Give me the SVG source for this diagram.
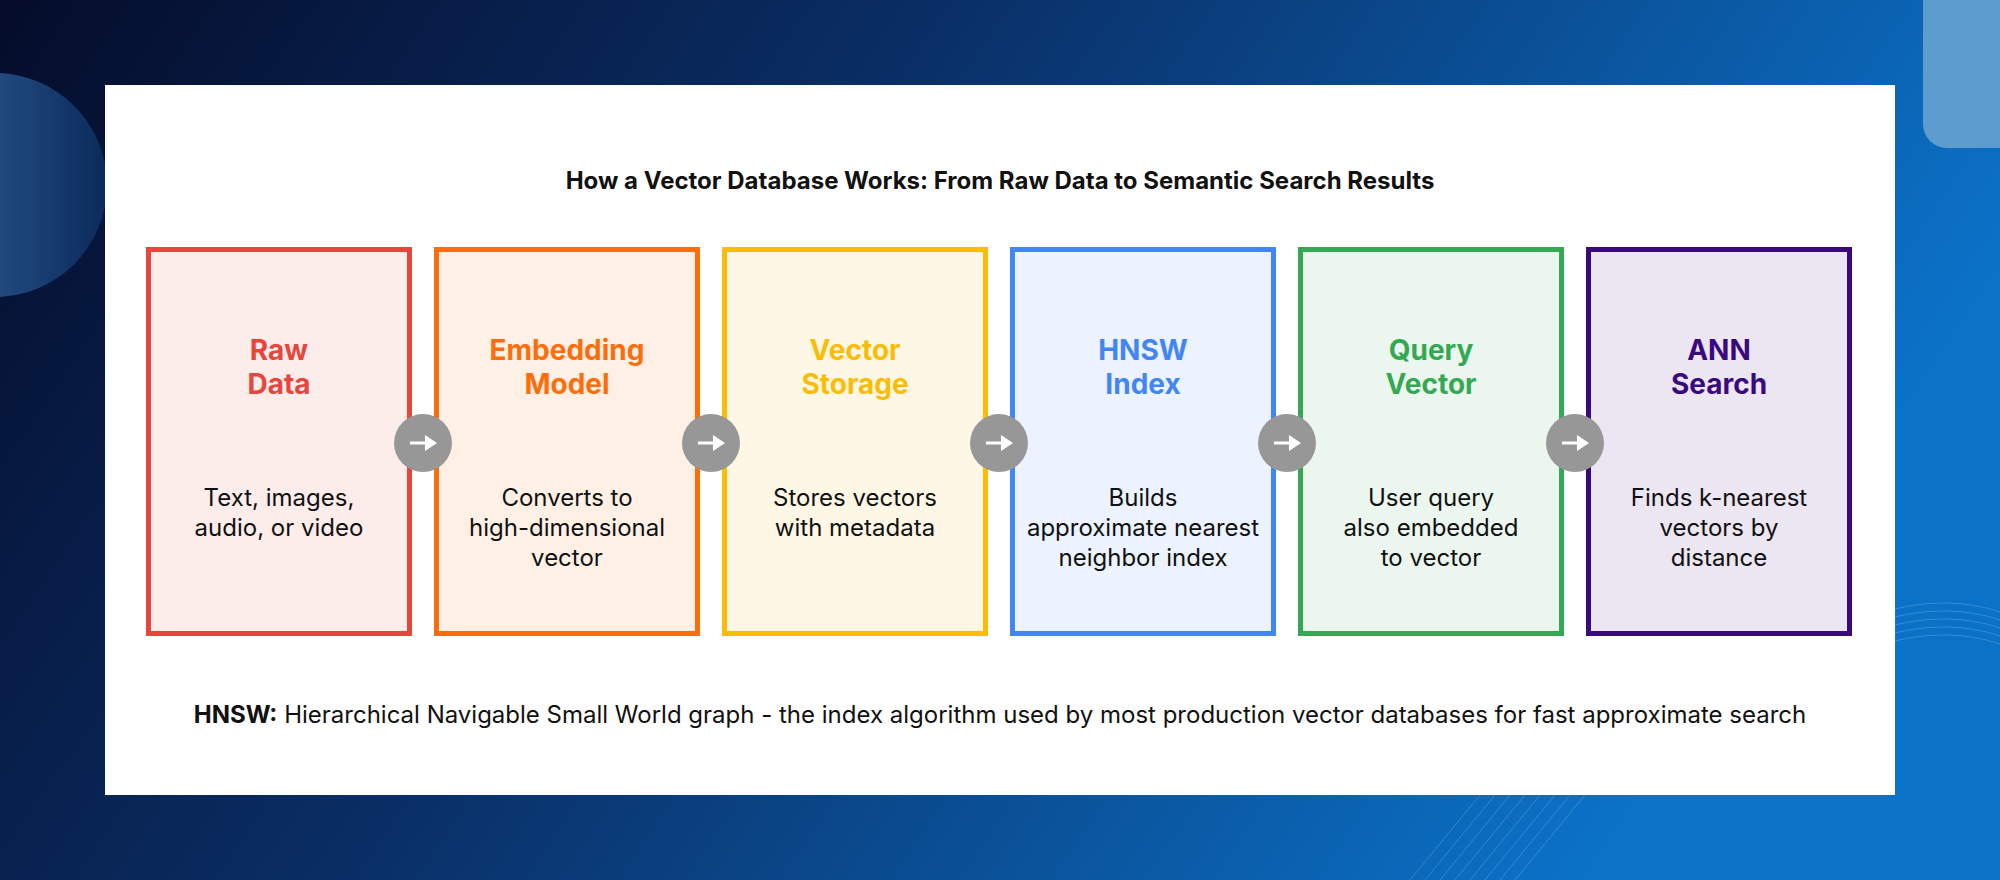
<svg xmlns="http://www.w3.org/2000/svg" width="2000" height="880" viewBox="0 0 2000 880">
<defs>
<linearGradient id="bg" x1="0" y1="0" x2="1" y2="0.3">
<stop offset="0" stop-color="#050c2a"/>
<stop offset="0.45" stop-color="#0a3068"/>
<stop offset="1" stop-color="#0b72c8"/>
</linearGradient>
<linearGradient id="blob" x1="1" y1="0" x2="0" y2="0">
<stop offset="0" stop-color="#0a2a5a"/>
<stop offset="1" stop-color="#3a6ca8"/>
</linearGradient>
<style>
.t{font-family:Inter,"Liberation Sans",sans-serif;text-anchor:middle}
.h{font-size:28px;font-weight:700}
.d{font-size:24px;fill:#111}
.box{stroke-width:5}
.arr{fill:#979797}
</style>
</defs>
<rect width="2000" height="880" fill="url(#bg)"/>
<circle cx="-5" cy="185" r="112" fill="url(#blob)"/>
<rect x="1923" y="-30" width="120" height="178" rx="24" fill="#5d9ccf"/>
<g stroke="#ffffff" stroke-opacity="0.18" fill="none" stroke-width="1">
<path d="M1890 610 Q1950 595 2000 612"/><path d="M1890 618 Q1950 603 2000 620"/><path d="M1890 626 Q1950 611 2000 628"/><path d="M1890 634 Q1950 619 2000 636"/><path d="M1890 642 Q1950 627 2000 644"/>
<path d="M1410 880 L1480 795"/><path d="M1425 880 L1495 795"/><path d="M1440 880 L1510 795"/><path d="M1455 880 L1525 795"/><path d="M1470 880 L1540 795"/><path d="M1485 880 L1555 795"/><path d="M1500 880 L1570 795"/><path d="M1515 880 L1585 795"/>
</g>
<rect x="105" y="85" width="1790" height="710" fill="#ffffff"/>
<text class="t" x="1000" y="189" font-size="24" font-weight="700" fill="#111">How a Vector Database Works: From Raw Data to Semantic Search Results</text>
<g id="n1"><rect class="box" x="148.5" y="249.5" width="261" height="384" fill="#FCEDEB" stroke="#E8453C"/>
<text class="t h" fill="#E8453C"><tspan x="279" y="360">Raw</tspan><tspan x="279" y="394">Data</tspan></text>
<text class="t d"><tspan x="279" y="506">Text, images,</tspan><tspan x="279" y="536">audio, or video</tspan></text></g>
<g id="n2"><rect class="box" x="436.5" y="249.5" width="261" height="384" fill="#FFF0E6" stroke="#FF6D0A"/>
<text class="t h" fill="#FF6D0A"><tspan x="567" y="360">Embedding</tspan><tspan x="567" y="394">Model</tspan></text>
<text class="t d"><tspan x="567" y="506">Converts to</tspan><tspan x="567" y="536">high-dimensional</tspan><tspan x="567" y="566">vector</tspan></text></g>
<g id="n3"><rect class="box" x="724.5" y="249.5" width="261" height="384" fill="#FEF7E6" stroke="#FBBC04"/>
<text class="t h" fill="#FBBC04"><tspan x="855" y="360">Vector</tspan><tspan x="855" y="394">Storage</tspan></text>
<text class="t d"><tspan x="855" y="506">Stores vectors</tspan><tspan x="855" y="536">with metadata</tspan></text></g>
<g id="n4"><rect class="box" x="1012.5" y="249.5" width="261" height="384" fill="#ECF3FE" stroke="#4285F4"/>
<text class="t h" fill="#4285F4"><tspan x="1143" y="360">HNSW</tspan><tspan x="1143" y="394">Index</tspan></text>
<text class="t d"><tspan x="1143" y="506">Builds</tspan><tspan x="1143" y="536">approximate nearest</tspan><tspan x="1143" y="566">neighbor index</tspan></text></g>
<g id="n5"><rect class="box" x="1300.5" y="249.5" width="261" height="384" fill="#EBF6EE" stroke="#34A853"/>
<text class="t h" fill="#34A853"><tspan x="1431" y="360">Query</tspan><tspan x="1431" y="394">Vector</tspan></text>
<text class="t d"><tspan x="1431" y="506">User query</tspan><tspan x="1431" y="536">also embedded</tspan><tspan x="1431" y="566">to vector</tspan></text></g>
<g id="n6"><rect class="box" x="1588.5" y="249.5" width="261" height="384" fill="#ECE6F2" stroke="#3A0A7C"/>
<text class="t h" fill="#3A0A7C"><tspan x="1719" y="360">ANN</tspan><tspan x="1719" y="394">Search</tspan></text>
<text class="t d"><tspan x="1719" y="506">Finds k-nearest</tspan><tspan x="1719" y="536">vectors by</tspan><tspan x="1719" y="566">distance</tspan></text></g>
<g id="connectors">
<g transform="translate(423 443)"><circle class="arr" r="29"/><path d="M-13 0H4" stroke="#fff" stroke-width="3"/><path d="M2 -8L14 0L2 8Z" fill="#fff"/></g>
<g transform="translate(711 443)"><circle class="arr" r="29"/><path d="M-13 0H4" stroke="#fff" stroke-width="3"/><path d="M2 -8L14 0L2 8Z" fill="#fff"/></g>
<g transform="translate(999 443)"><circle class="arr" r="29"/><path d="M-13 0H4" stroke="#fff" stroke-width="3"/><path d="M2 -8L14 0L2 8Z" fill="#fff"/></g>
<g transform="translate(1287 443)"><circle class="arr" r="29"/><path d="M-13 0H4" stroke="#fff" stroke-width="3"/><path d="M2 -8L14 0L2 8Z" fill="#fff"/></g>
<g transform="translate(1575 443)"><circle class="arr" r="29"/><path d="M-13 0H4" stroke="#fff" stroke-width="3"/><path d="M2 -8L14 0L2 8Z" fill="#fff"/></g>
</g>
<text class="t d" x="1000" y="723"><tspan font-weight="700">HNSW:</tspan> Hierarchical Navigable Small World graph - the index algorithm used by most production vector databases for fast approximate search</text>
</svg>
